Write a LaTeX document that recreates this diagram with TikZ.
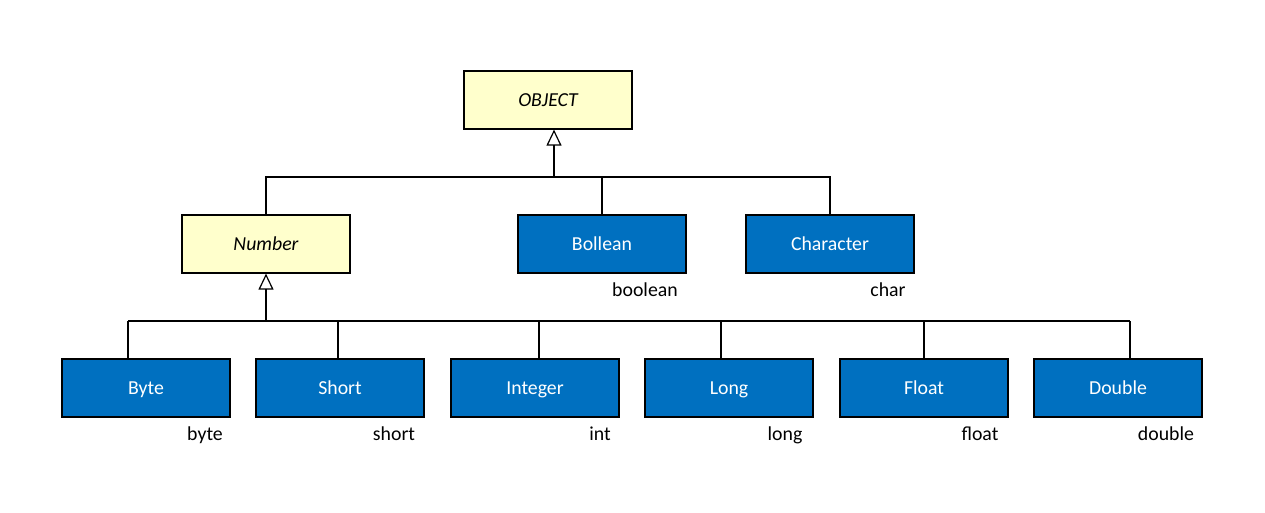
\documentclass[tikz,border=0pt]{standalone}
\usepackage{fontspec}
\setmainfont{Carlito}
\usetikzlibrary{arrows.meta,calc}
\definecolor{boxyellow}{HTML}{FFFFCC}
\definecolor{boxblue}{HTML}{0070C0}
\tikzset{
  txt/.style={font=\fontsize{19.8}{22}\selectfont, text height=13pt, text depth=1pt},
  abstractbox/.style={txt, draw=black, line width=1.2pt, fill=boxyellow, minimum width=168pt, minimum height=58pt, inner sep=0pt, font=\fontsize{19.8}{22}\selectfont\itshape},
  typebox/.style={txt, draw=black, line width=1.2pt, fill=boxblue, text=white, minimum width=168pt, minimum height=58pt, inner sep=0pt},
  primlabel/.style={txt, text=black, inner sep=0pt},
  conn/.style={draw=black, line width=1.2pt},
  inh/.style={conn, -{Triangle[open, length=16pt, width=15pt, line width=1.2pt]}},
}
\begin{document}
\begin{tikzpicture}[x=1pt,y=-1pt]
\useasboundingbox (0,0) rectangle (1265,512);
% nodes
\node[abstractbox] (obj) at (548,100) {OBJECT};
\node[abstractbox] (num) at (266,244) {Number};
\node[typebox] (bol) at (602,244) {Bollean};
\node[typebox] (chr) at (830,244) {Character};
\node[typebox] (byt) at (146,388) {Byte};
\node[typebox] (sho) at (340,388) {Short};
\node[typebox] (int) at (535,388) {Integer};
\node[typebox] (lng) at (729,388) {Long};
\node[typebox] (flt) at (924,388) {Float};
\node[typebox] (dbl) at (1118,388) {Double};
% primitive labels
\node[primlabel] (lbol) at (645,290) {boolean};
\node[primlabel] (lchr) at (888,290) {char};
\node[primlabel] (lbyt) at (205,434) {byte};
\node[primlabel] (lsho) at (394,434) {short};
\node[primlabel] (lint) at (600,434) {int};
\node[primlabel] (llng) at (785,434) {long};
\node[primlabel] (lflt) at (980,434) {float};
\node[primlabel] (ldbl) at (1166,434) {double};
% upper hierarchy
\coordinate (busA) at (554,177);
\draw[inh] (busA) -- (obj.south -| busA);
\draw[conn] (num.north) |- (busA) -| (chr.north);
\draw[conn] (bol.north) -- (bol.north |- busA);
% lower hierarchy
\coordinate (busB) at (266,321);
\coordinate (dByt) at (128,321);
\coordinate (dSho) at (338,321);
\coordinate (dInt) at (539,321);
\coordinate (dLng) at (721,321);
\coordinate (dFlt) at (924,321);
\coordinate (dDbl) at (1130,321);
\draw[inh] (busB) -- (num.south);
\draw[conn] (dByt) -- (dDbl);
\draw[conn] (dByt) -- (byt.north -| dByt);
\draw[conn] (dSho) -- (sho.north -| dSho);
\draw[conn] (dInt) -- (int.north -| dInt);
\draw[conn] (dLng) -- (lng.north -| dLng);
\draw[conn] (dFlt) -- (flt.north -| dFlt);
\draw[conn] (dDbl) -- (dbl.north -| dDbl);
\end{tikzpicture}
\end{document}
